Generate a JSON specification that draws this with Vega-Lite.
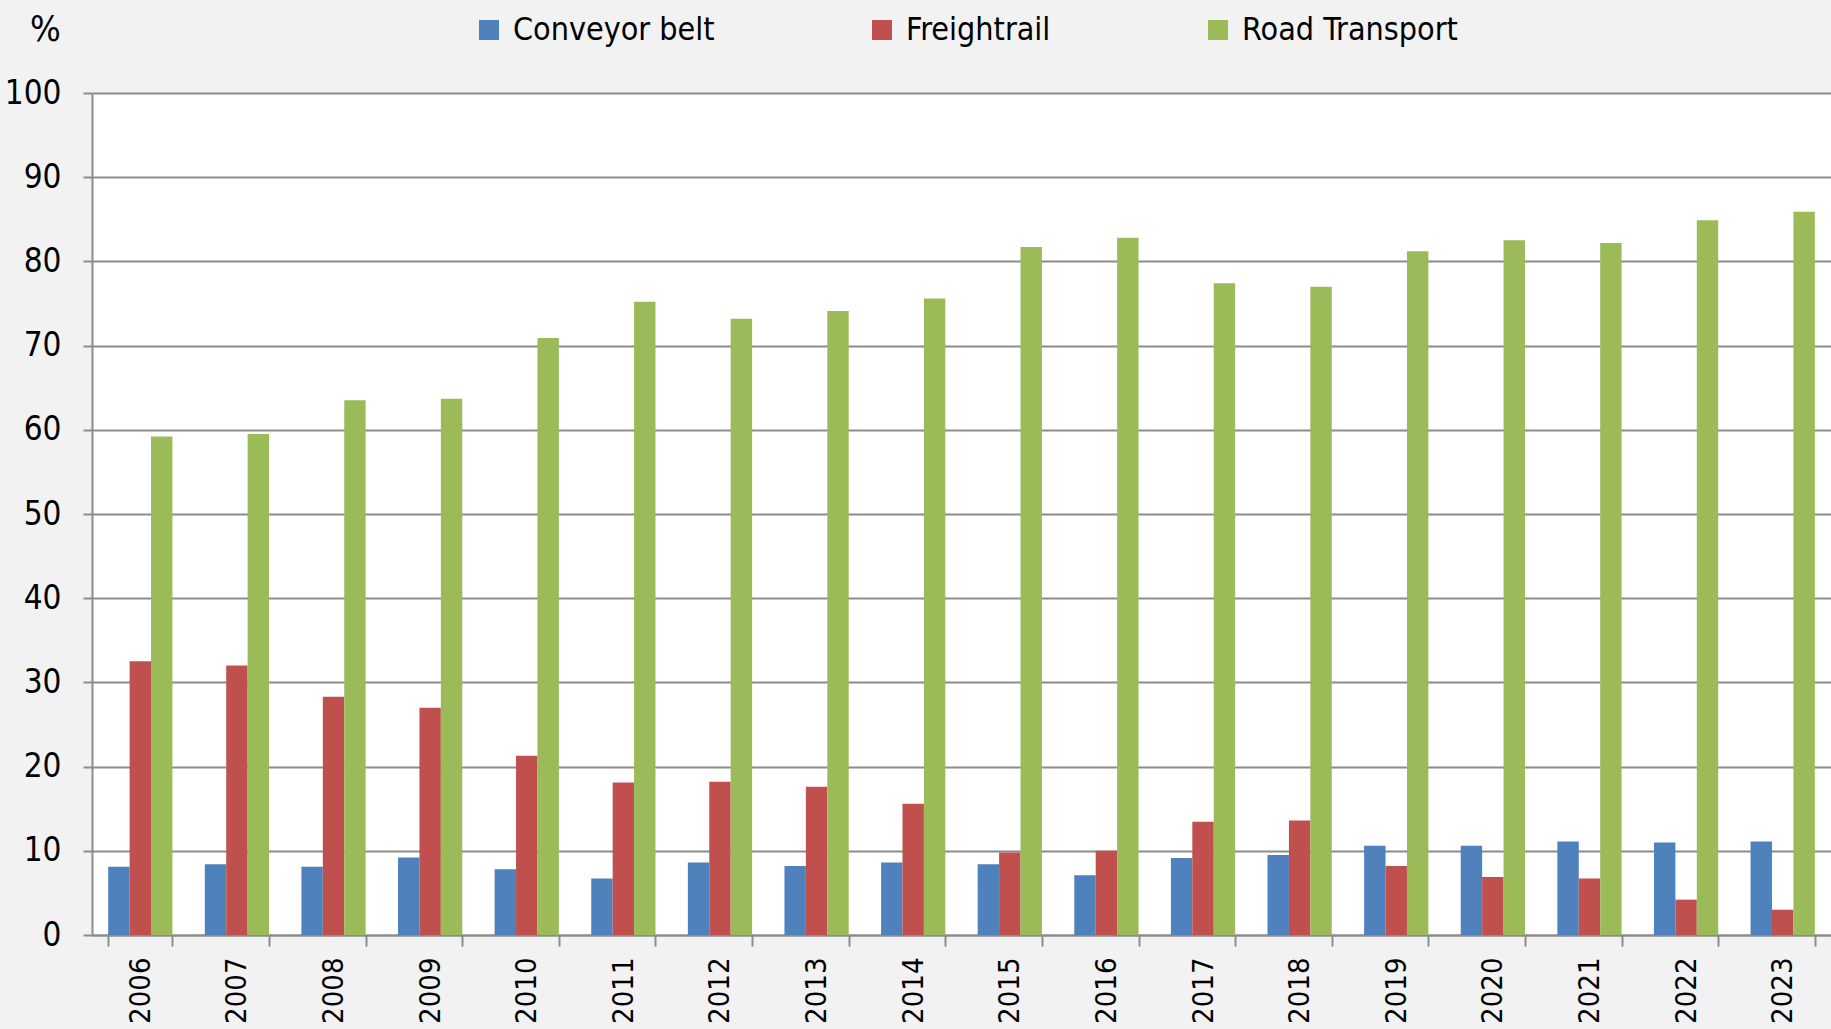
{
  "$schema": "https://vega.github.io/schema/vega-lite/v6.json",
  "width": 1739,
  "height": 842,
  "autosize": {"type": "none"},
  "padding": {"left": 92, "top": 93, "right": 0, "bottom": 94},
  "background": "#f2f2f2",
  "config": {
    "view": {"fill": "#ffffff", "stroke": null},
    "font": "Liberation Sans Narrow, DejaVu Sans Condensed, sans-serif"
  },
  "data": {
    "values": [
      {"year": "2006", "mode": "Conveyor belt", "value": 8.1},
      {"year": "2006", "mode": "Freightrail", "value": 32.5},
      {"year": "2006", "mode": "Road Transport", "value": 59.2},
      {"year": "2007", "mode": "Conveyor belt", "value": 8.4},
      {"year": "2007", "mode": "Freightrail", "value": 32.0},
      {"year": "2007", "mode": "Road Transport", "value": 59.5},
      {"year": "2008", "mode": "Conveyor belt", "value": 8.1},
      {"year": "2008", "mode": "Freightrail", "value": 28.3},
      {"year": "2008", "mode": "Road Transport", "value": 63.5},
      {"year": "2009", "mode": "Conveyor belt", "value": 9.2},
      {"year": "2009", "mode": "Freightrail", "value": 27.0},
      {"year": "2009", "mode": "Road Transport", "value": 63.7},
      {"year": "2010", "mode": "Conveyor belt", "value": 7.8},
      {"year": "2010", "mode": "Freightrail", "value": 21.3},
      {"year": "2010", "mode": "Road Transport", "value": 70.9},
      {"year": "2011", "mode": "Conveyor belt", "value": 6.7},
      {"year": "2011", "mode": "Freightrail", "value": 18.1},
      {"year": "2011", "mode": "Road Transport", "value": 75.2},
      {"year": "2012", "mode": "Conveyor belt", "value": 8.6},
      {"year": "2012", "mode": "Freightrail", "value": 18.2},
      {"year": "2012", "mode": "Road Transport", "value": 73.2},
      {"year": "2013", "mode": "Conveyor belt", "value": 8.2},
      {"year": "2013", "mode": "Freightrail", "value": 17.6},
      {"year": "2013", "mode": "Road Transport", "value": 74.1},
      {"year": "2014", "mode": "Conveyor belt", "value": 8.6},
      {"year": "2014", "mode": "Freightrail", "value": 15.6},
      {"year": "2014", "mode": "Road Transport", "value": 75.6},
      {"year": "2015", "mode": "Conveyor belt", "value": 8.4},
      {"year": "2015", "mode": "Freightrail", "value": 9.8},
      {"year": "2015", "mode": "Road Transport", "value": 81.7},
      {"year": "2016", "mode": "Conveyor belt", "value": 7.1},
      {"year": "2016", "mode": "Freightrail", "value": 10.0},
      {"year": "2016", "mode": "Road Transport", "value": 82.8},
      {"year": "2017", "mode": "Conveyor belt", "value": 9.15},
      {"year": "2017", "mode": "Freightrail", "value": 13.45},
      {"year": "2017", "mode": "Road Transport", "value": 77.4},
      {"year": "2018", "mode": "Conveyor belt", "value": 9.5},
      {"year": "2018", "mode": "Freightrail", "value": 13.6},
      {"year": "2018", "mode": "Road Transport", "value": 77.0},
      {"year": "2019", "mode": "Conveyor belt", "value": 10.6},
      {"year": "2019", "mode": "Freightrail", "value": 8.2},
      {"year": "2019", "mode": "Road Transport", "value": 81.2},
      {"year": "2020", "mode": "Conveyor belt", "value": 10.6},
      {"year": "2020", "mode": "Freightrail", "value": 6.9},
      {"year": "2020", "mode": "Road Transport", "value": 82.5},
      {"year": "2021", "mode": "Conveyor belt", "value": 11.1},
      {"year": "2021", "mode": "Freightrail", "value": 6.7},
      {"year": "2021", "mode": "Road Transport", "value": 82.2},
      {"year": "2022", "mode": "Conveyor belt", "value": 11.0},
      {"year": "2022", "mode": "Freightrail", "value": 4.2},
      {"year": "2022", "mode": "Road Transport", "value": 84.9},
      {"year": "2023", "mode": "Conveyor belt", "value": 11.1},
      {"year": "2023", "mode": "Freightrail", "value": 3.0},
      {"year": "2023", "mode": "Road Transport", "value": 85.9}
    ]
  },
  "mark": {"type": "bar"},
  "encoding": {
    "x": {
      "field": "year",
      "type": "nominal",
      "scale": {"paddingInner": 0.335, "paddingOuter": 0.1675},
      "axis": {
        "title": null,
        "labelAngle": -90,
        "labelAlign": "right",
        "labelBaseline": "middle",
        "labelFontSize": 29,
        "labelColor": "#000000",
        "labelPadding": 11,
        "tickBand": "extent",
        "tickSize": 11,
        "tickColor": "#8c8c8c",
        "tickWidth": 2,
        "domainColor": "#8c8c8c",
        "domainWidth": 2,
        "grid": false
      }
    },
    "xOffset": {"field": "mode", "type": "nominal", "sort": ["Conveyor belt", "Freightrail", "Road Transport"], "scale": {"paddingInner": 0, "paddingOuter": 0}},
    "y": {
      "field": "value",
      "type": "quantitative",
      "scale": {"domain": [0, 100], "nice": false},
      "axis": {
        "title": "%",
        "titleAngle": 0,
        "titleX": -47,
        "titleY": -64,
        "titleAlign": "center",
        "titleBaseline": "middle",
        "titleFontSize": 36,
        "titleFontWeight": "normal",
        "titleColor": "#000000",
        "values": [0, 10, 20, 30, 40, 50, 60, 70, 80, 90, 100],
        "labelFontSize": 33,
        "labelColor": "#000000",
        "labelPadding": 22,
        "tickSize": 9,
        "tickColor": "#8c8c8c",
        "tickWidth": 2,
        "domainColor": "#8c8c8c",
        "domainWidth": 2,
        "grid": true,
        "gridColor": "#8c8c8c",
        "gridWidth": 2
      }
    },
    "color": {
      "field": "mode",
      "type": "nominal",
      "scale": {"domain": ["Conveyor belt", "Freightrail", "Road Transport"], "range": ["#4f81bd", "#c0504d", "#9bbb59"]},
      "legend": {
        "title": null,
        "orient": "none",
        "direction": "horizontal",
        "legendX": 381,
        "legendY": -79,
        "symbolType": "square",
        "symbolSize": 400,
        "symbolStrokeWidth": 0,
        "labelFontSize": 32,
        "labelLimit": 0,
        "labelColor": "#000000",
        "labelOffset": 8,
        "columnPadding": 151
      }
    }
  }
}
